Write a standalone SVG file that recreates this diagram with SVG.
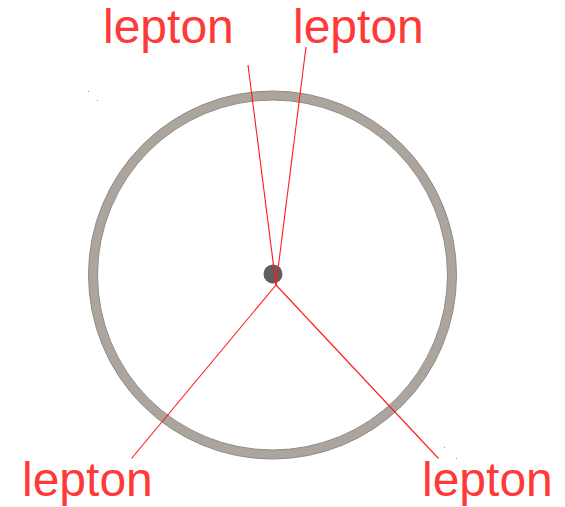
<svg xmlns="http://www.w3.org/2000/svg" width="565" height="507" viewBox="0 0 565 507">
<style>
.lbl{font-family:"Liberation Sans",Arial,sans-serif;font-size:48px;fill:#ff3838}
.ray{stroke:#ff1a1a;stroke-width:1.1;fill:none}
</style>
<rect width="565" height="507" fill="#ffffff"/>
<g id="ring">
<circle cx="272.5" cy="275" r="179.5" fill="none" stroke="#aba59d" stroke-width="9"/>
<circle cx="272.5" cy="275" r="184" fill="none" stroke="#8e8a85" stroke-width="1"/>
<circle cx="272.5" cy="275" r="175" fill="none" stroke="#8e8a85" stroke-width="1"/>
</g>
<g id="nucleus">
<circle cx="273" cy="274" r="9.5" fill="#5f5f5f"/>
</g>
<g id="specks" fill="#9a9a9a">
<rect x="88" y="91" width="1" height="1"/>
<rect x="97" y="100" width="1" height="1"/>
<rect x="444" y="447" width="1" height="1"/>
<rect x="456" y="458" width="1" height="1"/>
</g>
<g id="connectors">
<line class="ray" x1="276" y1="285" x2="248" y2="65"/>
<line class="ray" x1="276" y1="285" x2="306" y2="47"/>
<line class="ray" x1="276" y1="285" x2="131.5" y2="458.5"/>
<line class="ray" x1="276" y1="285" x2="438.5" y2="458.5"/>
</g>
<g id="label-top-left"><text class="lbl" x="103" y="42.5">lepton</text></g>
<g id="label-top-right"><text class="lbl" x="293" y="42.5">lepton</text></g>
<g id="label-bottom-left"><text class="lbl" x="22" y="496">lepton</text></g>
<g id="label-bottom-right"><text class="lbl" x="422" y="496">lepton</text></g>
</svg>
